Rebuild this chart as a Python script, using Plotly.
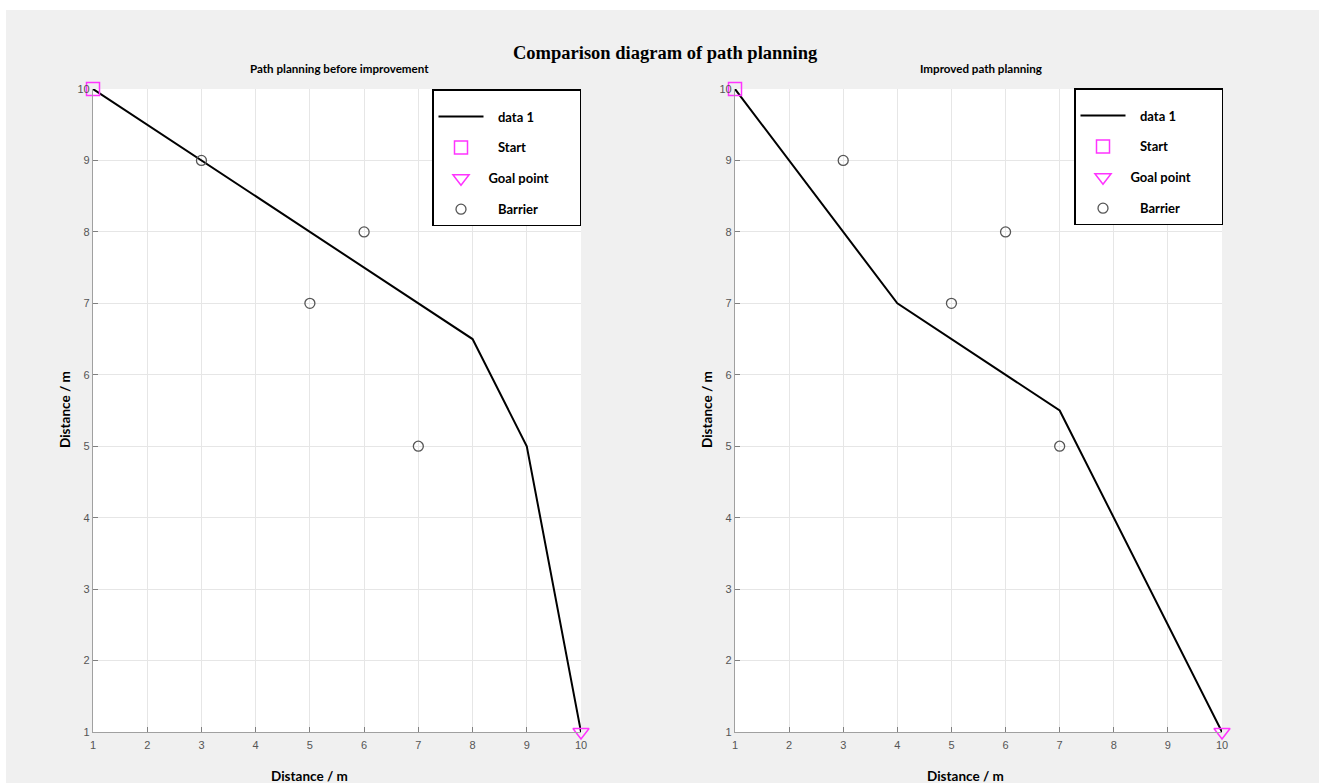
import plotly.graph_objects as go

W, H = 1319, 783

# ---- data ----
path_before_x = [1, 3, 8, 9, 10]
path_before_y = [10, 9, 6.5, 5, 1]
path_after_x = [1, 4, 7, 10]
path_after_y = [10, 7, 5.5, 1]
start_pt = (1, 10)
goal_pt = (10, 1)
barrier_x = [3, 5, 6, 7]
barrier_y = [9, 7, 8, 5]
ticks = list(range(1, 11))

main_title = "Comparison diagram of path planning"
sub_titles = ["Path planning before improvement", "Improved path planning"]
axis_label = "Distance / m"
legend_names = ["data 1", "Start", "Goal point", "Barrier"]

MAG = "#ff33ff"
GRAY = "#555555"
NB = "\u00a0"

def px(x):
    return x / W

def py(y):
    return (H - y) / H

def lname(name, pre, post=8):
    return NB * pre + name + NB * post

plots = [
    dict(x0=93, x1=581, xa="x", ya="y", leg="legend", px_=path_before_x, py_=path_before_y,
         title_x=339, xlab_x=309),
    dict(x0=735, x1=1222, xa="x2", ya="y2", leg="legend2", px_=path_after_x, py_=path_after_y,
         title_x=981, xlab_x=965),
]

fig = go.Figure()
for i, p in enumerate(plots):
    fig.add_trace(go.Scatter(x=p["px_"], y=p["py_"], mode="lines", name=lname(legend_names[0], 3),
                             line=dict(color="black", width=2), xaxis=p["xa"], yaxis=p["ya"],
                             legend=p["leg"], legendgroup=f"a{i}", cliponaxis=False))
    fig.add_trace(go.Scatter(x=[start_pt[0]], y=[start_pt[1]], mode="markers", name=lname(legend_names[1], 3),
                             marker=dict(symbol="square-open", size=13, color=MAG, line=dict(width=1.5)),
                             xaxis=p["xa"], yaxis=p["ya"], legend=p["leg"], legendgroup=f"b{i}",
                             cliponaxis=False))
    fig.add_trace(go.Scatter(x=[goal_pt[0]], y=[goal_pt[1]], mode="markers", name=lname(legend_names[2], 0),
                             marker=dict(symbol="triangle-down-open", size=14, color=MAG, line=dict(width=1.5)),
                             xaxis=p["xa"], yaxis=p["ya"], legend=p["leg"], legendgroup=f"c{i}",
                             cliponaxis=False))
    fig.add_trace(go.Scatter(x=barrier_x, y=barrier_y, mode="markers",
                             name=lname(legend_names[3], 3),
                             marker=dict(symbol="circle-open", size=10, color=GRAY, line=dict(width=1.3)),
                             xaxis=p["xa"], yaxis=p["ya"], legend=p["leg"], legendgroup=f"d{i}",
                             cliponaxis=False))

axis_common = dict(range=[1, 10], tickvals=ticks, ticktext=[str(t) for t in ticks],
                   showgrid=True, gridcolor="#e6e6e6", gridwidth=1, zeroline=False,
                   showline=True, linecolor="#a0a0a0", linewidth=1.2, mirror=False,
                   ticks="inside", ticklen=5, tickcolor="#808080",
                   tickfont=dict(family="Liberation Sans, Arial", size=11, color="#555555"))

yd = [py(732), py(89)]
legend_common = dict(bgcolor="white", bordercolor="black", borderwidth=1.5,
                     font=dict(family="Lato, Open Sans", size=13, color="black", weight="bold"),
                     tracegroupgap=11, itemwidth=45, xanchor="left", yanchor="top",
                     title=dict(text=NB, font=dict(size=8.5)))

annotations = [dict(text="<b>" + main_title + "</b>", x=px(665), y=py(53), xref="paper", yref="paper",
                    showarrow=False, xanchor="center", yanchor="middle",
                    font=dict(family="Liberation Serif, Times New Roman", size=18.5, color="black"))]
for i, p in enumerate(plots):
    annotations.append(dict(text="<b>" + sub_titles[i] + "</b>", x=px(p["title_x"]), y=py(69),
                            xref="paper", yref="paper", showarrow=False, xanchor="center", yanchor="middle",
                            font=dict(family="Lato, Open Sans", size=11.6, color="black")))
    annotations.append(dict(text="<b>" + axis_label + "</b>", x=px(p["xlab_x"]), y=py(776),
                            xref="paper", yref="paper", showarrow=False, xanchor="center", yanchor="middle",
                            font=dict(family="Lato, Open Sans", size=13.5, color="black")))
    annotations.append(dict(text="<b>" + axis_label + "</b>", x=px(p["x0"] - 28), y=py(410),
                            xref="paper", yref="paper", showarrow=False, xanchor="center", yanchor="middle",
                            textangle=-90,
                            font=dict(family="Lato, Open Sans", size=13.5, color="black")))

fig.update_layout(
    width=W, height=H, margin=dict(l=0, r=0, t=0, b=0, autoexpand=False),
    paper_bgcolor="#f0f0f0", plot_bgcolor="white",
    xaxis=dict(domain=[px(93), px(581)], anchor="y", ticklabelstandoff=3, **axis_common),
    yaxis=dict(domain=yd, anchor="x", **axis_common),
    xaxis2=dict(domain=[px(735), px(1222)], anchor="y2", ticklabelstandoff=3, **axis_common),
    yaxis2=dict(domain=yd, anchor="x2", **axis_common),
    legend=dict(x=px(432), y=py(89), **legend_common),
    legend2=dict(x=px(1074), y=py(88), **legend_common),
    annotations=annotations,
    shapes=[
        dict(type="rect", xref="paper", yref="paper", x0=0, x1=1, y0=py(10), y1=1.02,
             fillcolor="white", line=dict(width=0), layer="below"),
        dict(type="rect", xref="paper", yref="paper", x0=-0.01, x1=px(6), y0=-0.02, y1=1.02,
             fillcolor="white", line=dict(width=0), layer="below"),
    ],
)

fig.write_html("out.html")
